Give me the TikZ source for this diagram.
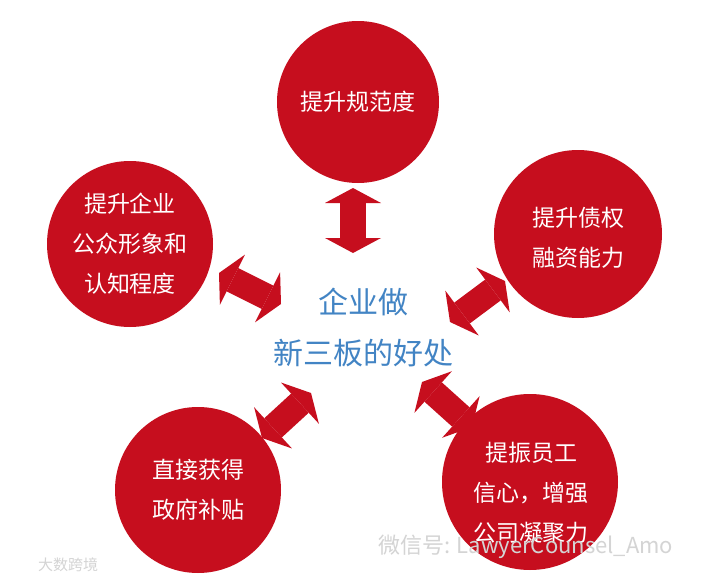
\documentclass[tikz,border=0pt]{standalone}
\usepackage{fontspec}
\newfontfamily\cjk{Noto Sans CJK SC}
\usetikzlibrary{arrows.meta}
\definecolor{bubred}{RGB}{198,14,30}
\definecolor{hubblue}{RGB}{66,132,196}
\definecolor{stampgray}{RGB}{212,212,212}
\tikzset{
  bubble/.style={circle, fill=bubred, inner sep=0pt, text=white, align=center,
    font=\cjk\fontsize{23}{40}\selectfont},
  bubtext/.style={text=white, align=center, font=\cjk\fontsize{23}{40}\selectfont},
  hub/.style={text=hubblue, align=center, font=\cjk\fontsize{30}{51}\selectfont},
  link/.style={draw=bubred, line width=26pt,
    {Triangle[width=56pt,length=15pt,line width=0pt]}-{Triangle[width=56pt,length=15pt,line width=0pt]}},
  stamp/.style={text=stampgray, inner sep=0pt}
}
\begin{document}
\begin{tikzpicture}[x=1pt,y=-1pt]
    % Canvas
    \fill[white] (0,0) rectangle (716,581);
    \useasboundingbox (0,0) rectangle (716,581);
    % Circles
    \node[bubble, minimum size=162pt] (norm) at (358,102) {提升规范度};
    \node[bubble, minimum size=166pt] (image) at (130,244) {提升企业\\公众形象和\\认知程度};
    \node[bubble, minimum size=168pt] (credit) at (578,234) {};
    \node[bubtext] (credit-text) at (578,238) {提升债权\\融资能力};
    \node[bubble, minimum size=166pt] (grant) at (198,490) {直接获得\\政府补贴};
    \node[bubble, minimum size=176pt] (staff) at (530,482) {};
    \node[bubtext] (staff-text) at (531,493) {提振员工\\信心，增强\\公司凝聚力};
    % Centre text
    \node[hub] (hub) at (363,327) {企业做\\新三板的好处};
    % Arrow ends
    \coordinate (norm-a) at (353,188);
    \coordinate (norm-b) at (353,253);
    \coordinate (image-a) at (219,273);
    \coordinate (image-b) at (281,304);
    \coordinate (credit-a) at (505,281);
    \coordinate (credit-b) at (450,322);
    \coordinate (grant-a) at (262,438);
    \coordinate (grant-b) at (311,393);
    \coordinate (staff-a) at (472,427);
    \coordinate (staff-b) at (422,382);
    % Arrows
    \draw[link] (norm-a) -- (norm-b);
    \draw[link] (image-a) -- (image-b);
    \draw[link] (credit-a) -- (credit-b);
    \draw[link] (grant-a) -- (grant-b);
    \draw[link] (staff-a) -- (staff-b);
    % Watermarks
    \node[stamp, anchor=west, font=\cjk\fontsize{22}{22}\selectfont] (wechat) at (378,547) {微信号: LawyerCounsel\_Amo};
    \node[stamp, font=\cjk\fontsize{15}{15}\selectfont] (source) at (68,565) {大数跨境};
\end{tikzpicture}
\end{document}
